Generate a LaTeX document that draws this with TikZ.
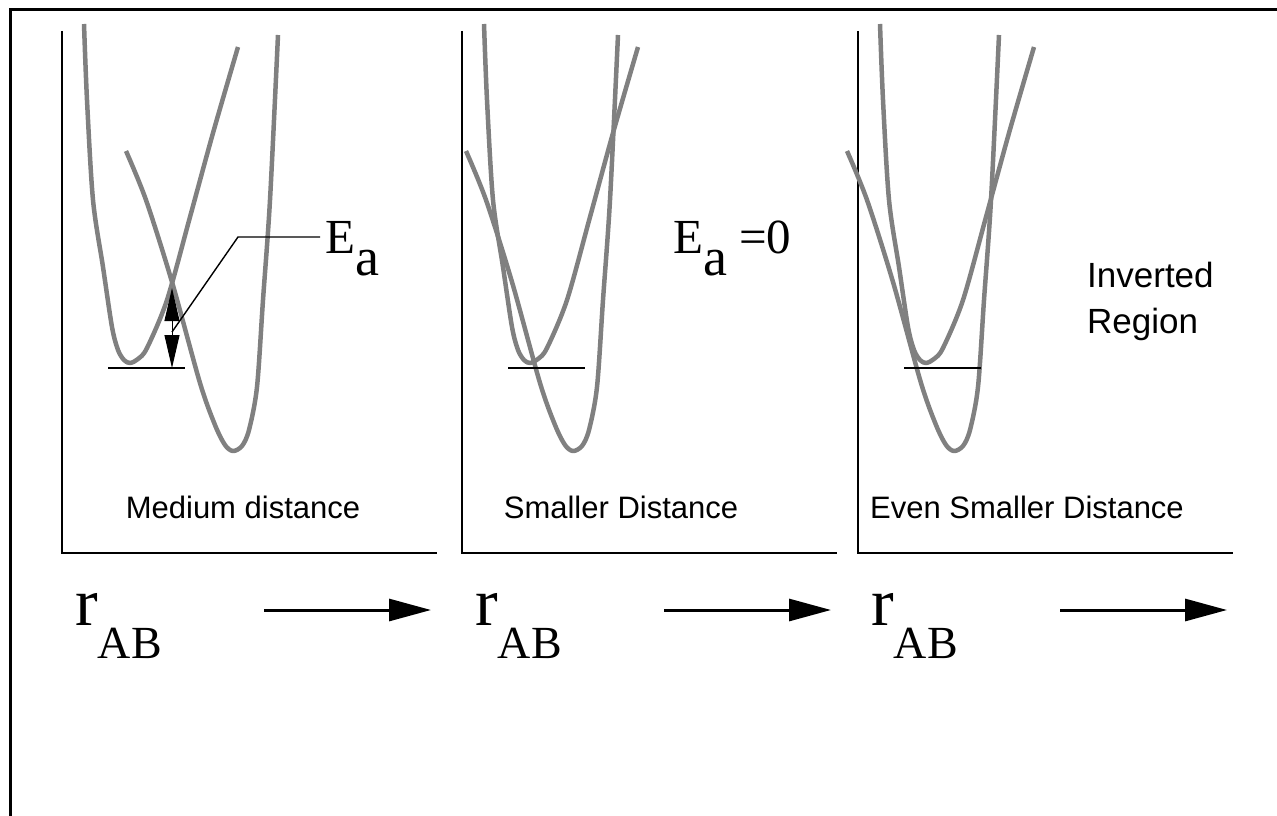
\documentclass[tikz,border=0pt]{standalone}
\usepackage{fontspec}
\setmainfont{Liberation Serif}
\setsansfont{Liberation Sans}
\usepackage{tikz}
\usetikzlibrary{arrows.meta}
\definecolor{curvegray}{RGB}{128,128,128}
\tikzset{
  frameline/.style={line width=3pt, black},
  axisline/.style={line width=2.8pt, black},
  wellcurve/.style={draw=curvegray, line width=4.5pt, line join=round},
  levelline/.style={line width=1.4pt, black},
  paneltext/.style={font=\sffamily\fontsize{31}{37}\selectfont, inner sep=0pt},
  notetext/.style={font=\sffamily\fontsize{35}{41}\selectfont, inner sep=0pt},
  symtext/.style={font=\fontsize{49}{49}\selectfont, inner sep=0pt},
  rtext/.style={font=\fontsize{68}{68}\selectfont, inner sep=0pt},
  flow/.style={-{Triangle[length=42pt,width=22pt]}, line width=3pt},
  gap/.style={{Triangle[length=33pt,width=15pt]}-{Triangle[length=33pt,width=15pt]}, line width=1pt}
}
\newcommand{\subA}{\raisebox{-22pt}{\fontsize{54}{54}\selectfont a}}

\begin{document}
\begin{tikzpicture}[x=1pt,y=-1pt]
\useasboundingbox (0,0) rectangle (1277,816);
\draw[frameline] (1277,10) -| (10,816);
\foreach \ox/\sh/\lx/\lbl [count=\i] in {62/0/181/{Medium distance},462/-60/159/{Smaller Distance},858/-75/169/{Even Smaller Distance}}{
  \begin{scope}[xshift=\ox pt]
    \draw[axisline] (0,31) |- (375,553);
    % shallow well, same in every panel
    \draw[wellcurve] plot[smooth] coordinates {(22,24) (25,100) (31,200) (41,267) (50,327) (56,350) (62,360) (68,363) (76,359) (85,348) (105,300) (128,217) (151,133) (176,47)};
    % deep well, moves left
    \draw[wellcurve, xshift=\sh pt] plot[smooth] coordinates {(64,151) (84,200) (110,282) (138,383) (153,425) (163,445) (171,451) (180,446) (187,430) (195,387) (201,300) (208,200) (216,35)};
    \draw[levelline] (46,368) -- (123,368);
    \node[paneltext, anchor=base] (lbl\i) at (\lx,518) {\lbl};
    \node[rtext, anchor=base west] (rab\i) at (13,625) {r\raisebox{-33pt}{\fontsize{46}{46}\selectfont AB}};
    \coordinate (dir\i) at (202,610);
    \draw[flow] (dir\i) -- ++(167,0);
  \end{scope}
}
% activation energy
\coordinate (gap top) at (172,288);
\coordinate (gap bot) at (172,368);
\draw[gap] (gap top) -- (gap bot);
\node[symtext, anchor=base west] (ea) at (325,253) {E\subA};
\coordinate (lead start) at (172,332);
\coordinate (lead knee) at (238,237);
\draw[levelline, shorten >=5pt] (lead start) -- (lead knee) -- (lead knee -| ea.west);
\node[symtext, anchor=base west] (ea0) at (673,253) {E\subA{} =0};
\node[notetext, anchor=base west] (inv1) at (1087,287) {Inverted};
\node[notetext, anchor=base west] (inv2) at (1087,333) {Region};
\end{tikzpicture}
\end{document}
